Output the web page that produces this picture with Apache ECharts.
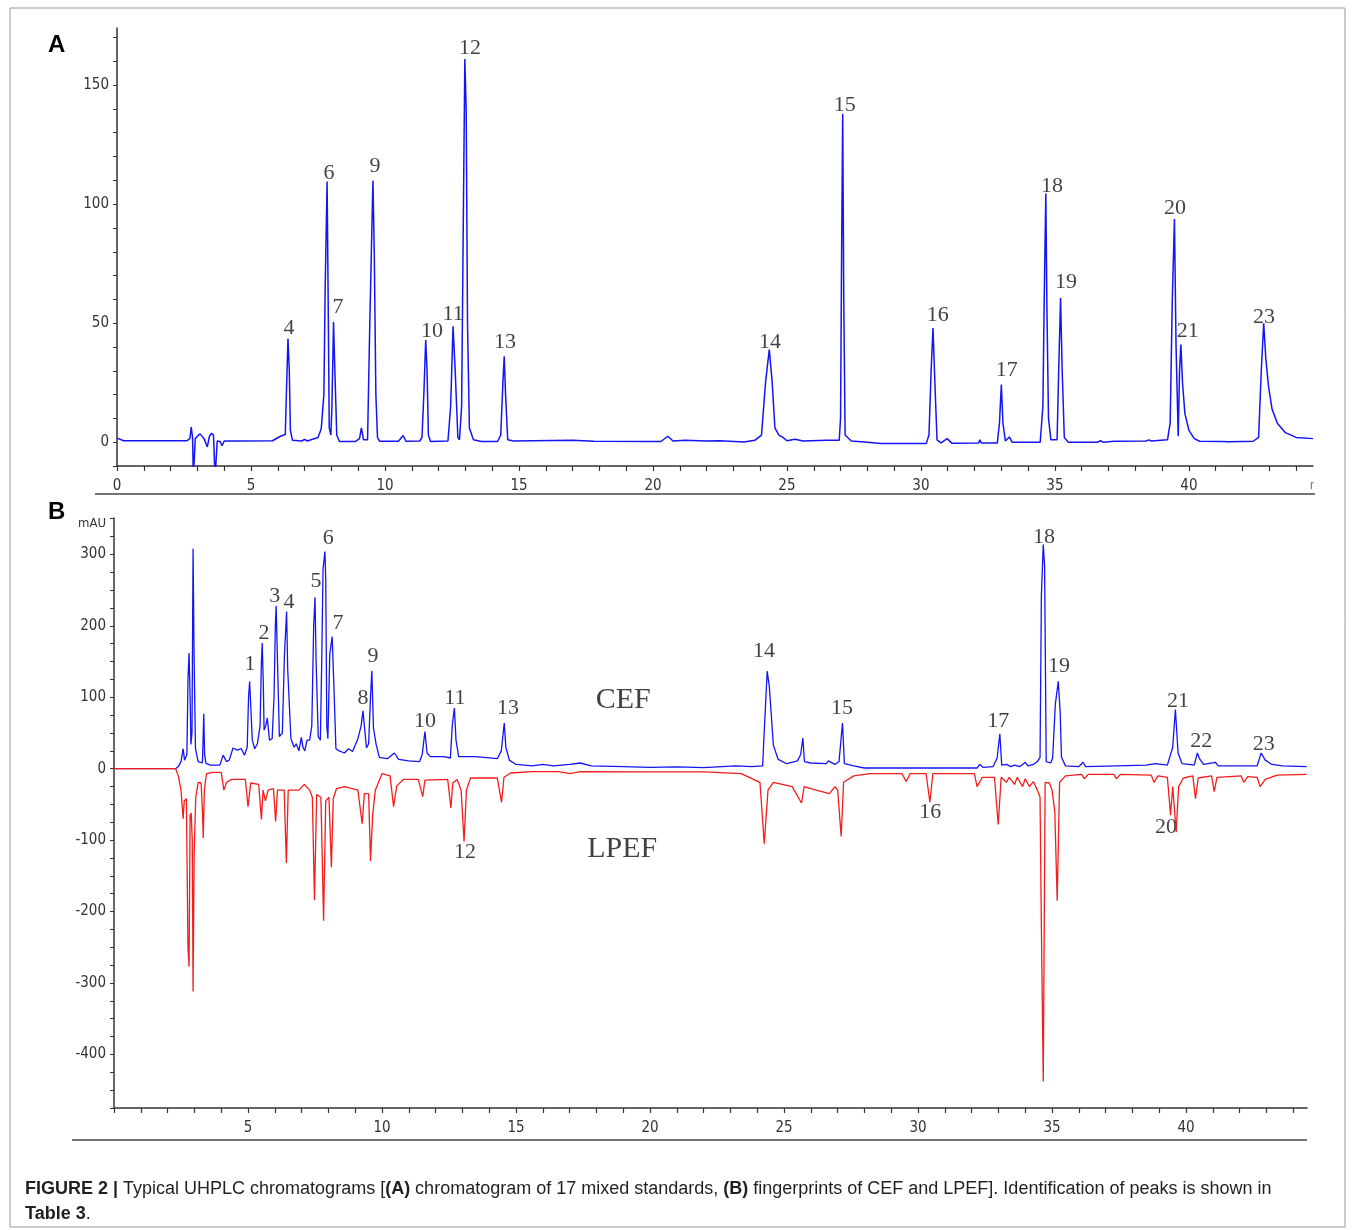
<!DOCTYPE html>
<html>
<head>
<meta charset="utf-8">
<script src="https://cdn.jsdelivr.net/npm/echarts@6/dist/echarts.min.js"></script>
<style>
  html, body { margin: 0; padding: 0; background: #fff; }
  #chart { width: 1355px; height: 1230px; }
</style>
</head>
<body>
<div id="chart"></div>
<script>
// panel A: mixed standards, [time (min), signal]
const traceA = [
  [0, 1.7], [0.25, 0.6], [2.6, 0.6], [2.72, 1.5], [2.77, 6.3], [2.82, 2], [2.85, -15], [2.89, -15], [2.92, 1.5],
  [3.0, 2.5], [3.1, 3.5], [3.25, 1.5], [3.37, -2], [3.45, 2.5], [3.52, 3.7], [3.6, 3], [3.66, -15], [3.7, -15],
  [3.74, 0.5], [3.85, 0.3], [3.92, -1.5], [4.0, 0.5], [4.6, 0.5], [5.8, 0.6], [6.1, 2.5], [6.28, 3.2], [6.32, 20],
  [6.38, 43.5], [6.43, 30], [6.47, 5], [6.55, 0.8], [6.9, 0.5], [7.0, 1.2], [7.1, 0.5], [7.5, 2], [7.62, 5.5],
  [7.72, 20], [7.77, 66], [7.84, 109.5], [7.88, 60], [7.92, 6], [7.98, 3], [8.02, 15], [8.08, 50.5], [8.13, 30],
  [8.2, 3], [8.3, 0.3], [8.9, 0.3], [9.05, 1.5], [9.12, 6], [9.2, 1], [9.35, 1], [9.43, 48], [9.55, 109.8],
  [9.6, 80], [9.66, 20], [9.72, 2], [9.8, 0.4], [10.5, 0.4], [10.68, 2.8], [10.78, 0.4], [11.3, 0.5], [11.38, 2],
  [11.45, 20], [11.52, 42.9], [11.57, 30], [11.62, 3], [11.7, 0.3], [12.35, 0.5], [12.45, 15], [12.54, 48.7],
  [12.62, 30], [12.72, 2], [12.78, 1], [12.86, 15], [12.92, 90], [12.98, 161], [13.03, 140], [13.08, 50],
  [13.15, 6], [13.3, 1], [13.6, 0.3], [14.2, 0.3], [14.32, 3], [14.4, 25], [14.45, 36.1], [14.5, 20], [14.58, 1],
  [14.8, 0.5], [17, 0.8], [17.8, 0.4], [20.3, 0.3], [20.55, 2.5], [20.75, 0.5], [21.2, 0.8], [22, 0.5],
  [22.5, 0.6], [23.4, 0.1], [23.8, 0.8], [24.05, 3], [24.2, 25], [24.34, 38.9], [24.45, 25], [24.55, 6],
  [24.7, 3], [24.85, 2], [25.0, 0.6], [25.3, 1.2], [25.6, 0.5], [26.5, 0.8], [26.95, 0.8], [27.0, 10],
  [27.04, 80], [27.08, 138], [27.12, 60], [27.17, 3], [27.4, 0.5], [27.9, 0.1], [28.5, -0.5], [30.2, -0.5],
  [30.3, 3], [30.38, 30], [30.45, 48], [30.52, 25], [30.6, 1], [30.75, -0.3], [30.98, 1.5], [31.15, -0.4],
  [32.15, -0.3], [32.2, 1], [32.25, -0.3], [32.85, -0.3], [32.93, 8], [33.0, 24.2], [33.06, 8], [33.15, 0.5],
  [33.3, 2.2], [33.4, 0], [34.45, 0], [34.55, 15], [34.6, 60], [34.66, 104.5], [34.7, 57], [34.76, 10],
  [34.85, 1], [35.08, 1], [35.14, 30], [35.21, 60.6], [35.27, 30], [35.35, 2], [35.5, 0], [36.6, 0],
  [36.7, 0.6], [36.8, 0], [37.2, 0.4], [38.4, 0.5], [38.5, 1], [38.6, 0.5], [39.2, 1], [39.3, 8], [39.38, 60],
  [39.46, 93.8], [39.52, 40], [39.6, 2.5], [39.65, 30], [39.7, 41], [39.76, 25], [39.85, 12], [40.0, 5],
  [40.2, 1.5], [40.4, 0.4], [41.2, 0.3], [41.5, 0.2], [42.4, 0.4], [42.6, 2], [42.7, 30], [42.79, 50],
  [42.87, 35], [42.97, 23.5], [43.1, 14], [43.3, 8], [43.6, 4], [44.0, 2], [44.63, 1.5]
]

// panel B: CEF fingerprint (up) and LPEF fingerprint (drawn downward)
const traceCEF = [
  [0, 0], [2.3, 0], [2.4, 3], [2.5, 10], [2.58, 28], [2.63, 12], [2.72, 20], [2.76, 125], [2.8, 162], [2.84, 100],
  [2.87, 34], [2.91, 50], [2.95, 308], [2.99, 150], [3.04, 28], [3.14, 10], [3.3, 8], [3.33, 50], [3.35, 77],
  [3.38, 20], [3.43, 7.5], [3.6, 5], [3.95, 5], [4.07, 19], [4.2, 10], [4.3, 12], [4.44, 29], [4.6, 26],
  [4.75, 28], [4.87, 19], [4.97, 30], [5.02, 100], [5.06, 122], [5.1, 90], [5.16, 40], [5.25, 28], [5.35, 35],
  [5.45, 60], [5.5, 150], [5.53, 176], [5.57, 120], [5.6, 54], [5.66, 60], [5.72, 71], [5.8, 40], [5.9, 42],
  [5.97, 100], [6.02, 200], [6.05, 228], [6.1, 150], [6.17, 45], [6.28, 50], [6.36, 160], [6.44, 220],
  [6.48, 140], [6.6, 42], [6.72, 30], [6.8, 35], [6.9, 25], [6.99, 44], [7.05, 30], [7.12, 25], [7.2, 40],
  [7.3, 40], [7.38, 60], [7.45, 200], [7.5, 240], [7.54, 150], [7.62, 45], [7.7, 40], [7.75, 150], [7.8, 280],
  [7.87, 304], [7.9, 265], [7.94, 60], [7.98, 42], [8.05, 160], [8.14, 185], [8.2, 120], [8.28, 28], [8.4, 25],
  [8.6, 22], [8.75, 28], [8.9, 24], [9.1, 42], [9.22, 60], [9.29, 81], [9.34, 60], [9.42, 29], [9.5, 35],
  [9.57, 100], [9.62, 137], [9.68, 57], [9.78, 34], [9.9, 16], [10.2, 14], [10.46, 22], [10.62, 13], [11.0, 11],
  [11.4, 10], [11.5, 20], [11.6, 52], [11.68, 22], [11.8, 17], [12.3, 17], [12.55, 15], [12.62, 60], [12.7, 85],
  [12.76, 40], [12.86, 17], [13.5, 17], [14.3, 14], [14.45, 25], [14.56, 64], [14.62, 30], [14.75, 12],
  [15.0, 6], [15.6, 4], [16.0, 6], [16.4, 4], [17.0, 6], [17.4, 8], [17.8, 4], [19, 3], [20, 2], [21, 2.5],
  [22, 1.5], [23.2, 4], [23.8, 3], [24.2, 4], [24.27, 60], [24.37, 136.5], [24.45, 115], [24.6, 33],
  [24.78, 13], [25.1, 7], [25.5, 11], [25.62, 20], [25.7, 43], [25.76, 10], [26.0, 8], [26.57, 7], [26.65, 11],
  [26.9, 6], [27.05, 10], [27.18, 64], [27.25, 7], [27.6, 4], [28.0, 1], [32.2, 1], [32.3, 6], [32.42, 2],
  [32.8, 3], [32.95, 15], [33.05, 49], [33.12, 5], [33.3, 6], [33.45, 3], [33.6, 5], [33.8, 3], [34.0, 9],
  [34.1, 4], [34.3, 6], [34.45, 10], [34.55, 16], [34.6, 243], [34.67, 314], [34.72, 284], [34.78, 10],
  [34.95, 8], [35.02, 15], [35.12, 90], [35.23, 122.5], [35.3, 80], [35.35, 16], [35.5, 4], [36.0, 3],
  [36.16, 9], [36.25, 3], [37.4, 4], [38.5, 5], [38.85, 7], [39.3, 5], [39.5, 30], [39.6, 83], [39.7, 22],
  [39.85, 7], [40.3, 5], [40.42, 22], [40.5, 14], [40.65, 6], [41.09, 9], [41.2, 4], [42.0, 4], [42.65, 4],
  [42.8, 22], [42.95, 12], [43.2, 6], [43.6, 4], [44.5, 3]
]

const traceLPEF = [
  [0, 0], [2.3, 0], [2.4, -10], [2.5, -30], [2.58, -70], [2.62, -45], [2.7, -42], [2.76, -250], [2.8, -277],
  [2.84, -65], [2.88, -62], [2.92, -100], [2.95, -312], [2.99, -120], [3.05, -40], [3.14, -19], [3.25, -20],
  [3.3, -60], [3.33, -97], [3.37, -30], [3.45, -7], [3.7, -5], [4.0, -5], [4.1, -30], [4.2, -19], [4.4, -15],
  [4.9, -15], [5.0, -53], [5.1, -20], [5.4, -22], [5.5, -71], [5.56, -30], [5.65, -45], [5.75, -30],
  [5.95, -28], [6.03, -74], [6.1, -30], [6.35, -30], [6.43, -132], [6.5, -30], [6.9, -30], [7.1, -22],
  [7.3, -30], [7.4, -40], [7.48, -184], [7.56, -36], [7.72, -40], [7.82, -213], [7.9, -45], [8.02, -40],
  [8.11, -138], [8.18, -42], [8.3, -28], [8.6, -25], [9.1, -30], [9.26, -77], [9.34, -35], [9.5, -35],
  [9.57, -129], [9.65, -65], [9.75, -30], [10.0, -7], [10.3, -10], [10.43, -53], [10.55, -24], [10.8, -15],
  [11.35, -15], [11.52, -39], [11.6, -16], [12.45, -15], [12.57, -55], [12.64, -20], [12.8, -15], [12.95, -30],
  [13.06, -102], [13.15, -30], [13.3, -13], [14.3, -13], [14.46, -47], [14.55, -12], [14.8, -6], [15.6, -4],
  [16.6, -4], [17.0, -7], [17.4, -4], [20, -4.4], [22, -4.4], [23.4, -7], [24.1, -19], [24.26, -105],
  [24.4, -30], [24.6, -19], [25.3, -25], [25.65, -48], [25.75, -25], [26.2, -30], [26.69, -35], [26.9, -25],
  [27.0, -30], [27.13, -95], [27.22, -19], [27.6, -10], [28.2, -7], [29.4, -7], [29.56, -18], [29.7, -7],
  [30.3, -7], [30.44, -47], [30.55, -7], [32.1, -7], [32.2, -25], [32.4, -12], [32.85, -12], [32.99, -78],
  [33.1, -12], [33.3, -19], [33.4, -12], [33.6, -22], [33.7, -12], [33.9, -25], [34.0, -14], [34.15, -25],
  [34.3, -18], [34.45, -30], [34.55, -40], [34.6, -223], [34.67, -438], [34.74, -19], [34.9, -20], [35.0, -30],
  [35.1, -60], [35.19, -185], [35.28, -19], [35.5, -10], [36.1, -8], [36.2, -14], [36.35, -8], [37.3, -8],
  [37.4, -14], [37.55, -8], [38.7, -9], [38.8, -19], [38.95, -10], [39.3, -12], [39.42, -65], [39.5, -25],
  [39.63, -89], [39.72, -25], [39.9, -13], [40.25, -10], [40.35, -42], [40.45, -13], [40.95, -10],
  [41.05, -32], [41.15, -12], [42.05, -10], [42.15, -19], [42.3, -11], [42.65, -12], [42.76, -25],
  [42.95, -15], [43.4, -9], [44.5, -8]
]

// peak numbers and where they are written
const peakNamesA = ['4', '6', '7', '9', '10', '11', '12', '13', '14', '15', '16', '17', '18', '19', '20', '21', '23']
const peakLabelTimeA = [6.42, 7.91, 8.25, 9.63, 11.75, 12.54, 13.17, 14.48, 24.37, 27.16, 30.63, 33.2, 34.89, 35.41, 39.48, 39.96, 42.8]
const peakLabelHeightA = [47.9, 113, 56.7, 116, 46.6, 53.8, 165.5, 42, 42, 141.6, 53.4, 30.3, 107.6, 67.2, 98.3, 46.6, 52.5]

const peakNamesB = ['1', '2', '3', '4', '5', '6', '7', '8', '9', '10', '11', '12', '13', '14', '15', '16', '17', '18', '19', '20', '21', '22', '23']
const peakLabelTimeB = [5.07, 5.6, 6.0, 6.53, 7.54, 7.99, 8.36, 9.29, 9.66, 11.6, 12.72, 13.1, 14.7, 24.25, 27.16, 30.45, 32.99, 34.7, 35.26, 39.25, 39.7, 40.56, 42.9]
const peakLabelHeightB = [145.7, 189, 242, 232.5, 263, 322, 203, 98, 158, 67, 98, -117.6, 84, 165, 84, -61.6, 67, 323.5, 143, -82.6, 95, 37.8, 33.6]

const sampleNames = ['CEF', 'LPEF']
const sampleLabelTime = [19.0, 18.96]
const sampleLabelHeight = [96.6, -112]

const axisFont = "'DejaVu Sans Condensed', 'Liberation Sans Narrow', 'Liberation Sans', sans-serif"
const serifFont = "'Liberation Serif', 'Times New Roman', serif"
const blue = '#1414f5'
const red = '#f51c1c'

const myChart = echarts.init(document.getElementById('chart'))

const labelPoints = (names, times, heights) =>
  names.map((n, i) => [times[i], heights[i], n])

const xAxisBase = (grid, max, showZero) => ({
  type: 'value',
  gridIndex: grid,
  min: 0,
  max: max,
  interval: 1,
  axisLine: { show: true, onZero: false, lineStyle: { color: '#333', width: 1.5 } },
  axisTick: { show: true, length: 5, lineStyle: { color: '#333', width: 1.2 } },
  axisLabel: {
    margin: 13,
    fontSize: 15,
    fontFamily: axisFont,
    color: '#333',
    showMaxLabel: false,
    formatter: v => ((v % 5 === 0 && (showZero || v !== 0)) ? String(v) : '')
  },
  splitLine: { show: false }
})

const yAxisBase = (grid, min, max, interval, labelStep) => ({
  type: 'value',
  gridIndex: grid,
  min: min,
  max: max,
  interval: interval,
  axisLine: { show: true, onZero: false, lineStyle: { color: '#333', width: 1.5 } },
  axisTick: { show: true, length: 4, lineStyle: { color: '#333', width: 1 } },
  axisLabel: {
    margin: 8,
    fontSize: 15,
    fontFamily: axisFont,
    color: '#333',
    showMaxLabel: false,
    formatter: v => (v % labelStep === 0 ? String(v) : '')
  },
  splitLine: { show: false }
})

const peakLabelStyle = {
  show: true,
  position: 'inside',
  formatter: p => p.data[2],
  fontFamily: serifFont,
  fontSize: 22,
  color: '#111'
}

const option = {
  animation: false,
  backgroundColor: '#fff',
  grid: [
    { left: 117, top: 28, width: 1196, height: 438 },
    { left: 114, top: 518, width: 1193, height: 590 }
  ],
  xAxis: [
    xAxisBase(0, 44.63, true),
    xAxisBase(1, 44.51, false)
  ],
  yAxis: [
    yAxisBase(0, -10, 174, 10, 50),
    Object.assign(yAxisBase(1, -475, 351, 25, 100), {
      name: 'mAU',
      nameLocation: 'end',
      nameGap: -12,
      nameTextStyle: { fontFamily: axisFont, fontSize: 13, color: '#333', align: 'right', padding: [0, 8, 0, 0] }
    })
  ],
  series: [
    {
      name: 'standards',
      type: 'line',
      xAxisIndex: 0,
      yAxisIndex: 0,
      data: traceA,
      showSymbol: false,
      clip: true,
      lineStyle: { color: blue, width: 1.5 }
    },
    {
      name: 'CEF',
      type: 'line',
      xAxisIndex: 1,
      yAxisIndex: 1,
      data: traceCEF,
      showSymbol: false,
      clip: true,
      lineStyle: { color: blue, width: 1.3 }
    },
    {
      name: 'LPEF',
      type: 'line',
      xAxisIndex: 1,
      yAxisIndex: 1,
      data: traceLPEF,
      showSymbol: false,
      clip: true,
      lineStyle: { color: red, width: 1.3 }
    },
    {
      type: 'scatter',
      xAxisIndex: 0,
      yAxisIndex: 0,
      data: labelPoints(peakNamesA, peakLabelTimeA, peakLabelHeightA),
      symbolSize: 1,
      itemStyle: { color: 'transparent' },
      label: peakLabelStyle,
      silent: true
    },
    {
      type: 'scatter',
      xAxisIndex: 1,
      yAxisIndex: 1,
      data: labelPoints(peakNamesB, peakLabelTimeB, peakLabelHeightB),
      symbolSize: 1,
      itemStyle: { color: 'transparent' },
      label: peakLabelStyle,
      silent: true
    },
    {
      type: 'scatter',
      xAxisIndex: 1,
      yAxisIndex: 1,
      data: labelPoints(sampleNames, sampleLabelTime, sampleLabelHeight),
      symbolSize: 1,
      itemStyle: { color: 'transparent' },
      label: {
        show: true,
        position: 'inside',
        formatter: p => p.data[2],
        fontFamily: serifFont,
        fontSize: 30,
        color: p => (p.data[2] === 'LPEF' ? red : '#111')
      },
      silent: true
    }
  ],
  graphic: [
    { type: 'rect', shape: { x: 10, y: 8, width: 1335, height: 1219 }, style: { fill: 'none', stroke: '#999', lineWidth: 1 } },
    { type: 'line', shape: { x1: 95, y1: 494, x2: 1315, y2: 494 }, style: { stroke: '#444', lineWidth: 1.5 } },
    { type: 'line', shape: { x1: 72, y1: 1140, x2: 1307, y2: 1140 }, style: { stroke: '#444', lineWidth: 1.5 } },
    { type: 'text', x: 48, y: 33, style: { text: 'A', font: "bold 24px 'Liberation Sans', Arial, sans-serif", fill: '#000' } },
    { type: 'text', x: 48, y: 500, style: { text: 'B', font: "bold 24px 'Liberation Sans', Arial, sans-serif", fill: '#000' } },
    { type: 'text', x: 1310, y: 480, style: { text: 'r', font: "12px 'Liberation Sans', sans-serif", fill: '#777' } },
    {
      type: 'text',
      x: 25,
      y: 1177,
      style: {
        text: '{b|FIGURE 2 |} Typical UHPLC chromatograms [{b|(A)} chromatogram of 17 mixed standards, {b|(B)} fingerprints of CEF and LPEF]. Identification of peaks is shown in\n{b|Table 3}.',
        font: "18px 'Liberation Sans', Arial, sans-serif",
        fill: '#231f20',
        lineHeight: 25,
        rich: {
          b: { fontWeight: 'bold', fontSize: 18, fontFamily: "'Liberation Sans', Arial, sans-serif", fill: '#231f20' }
        }
      }
    }
  ]
}

option && myChart.setOption(option)

window.addEventListener('resize', function () {
  myChart.resize()
})
</script>
</body>
</html>
